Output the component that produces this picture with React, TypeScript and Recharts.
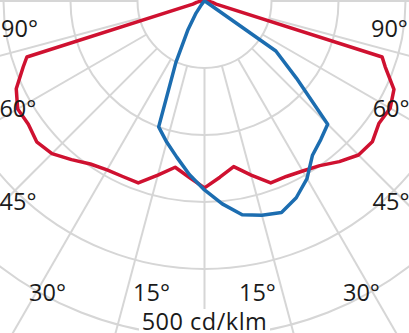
import { RadarChart, Radar, PolarGrid, PolarAngleAxis, PolarRadiusAxis } from "recharts"

// photometric angle (0 = straight down, + = right side)
const ANGLES = [
  -90, -85, -80, -75, -72.5, -70, -65, -60, -55, -50, -45, -40, -35, -30, -25, -20, -15, -10, -5,
  0, 5, 10, 15, 20, 25, 30, 35, 40, 45, 50, 55, 60, 65, 70, 72.5, 75, 80, 85, 90,
]

// C0-C180 plane, cd/klm
const RED = [
  4, 7, 12, 18, 278, 288, 310, 322, 321, 327, 322, 309, 297, 291, 289, 289, 269, 252, 264,
  279, 264, 251, 269, 289, 289, 293, 300, 313, 325, 327, 318, 320, 312, 287, 278, 18, 12, 7, 4,
]

// C90-C270 plane, cd/klm
const BLUE = [
  0, 0, 0, 0, 0, 0, 0, 0, 0, 0, 2, 7, 22, 49, 101, 200, 218, 237, 260,
  282, 304, 324, 331, 336, 324, 306, 281, 270, 260, 179, 130, 3, 0, 0, 0, 0, 0, 0, 0,
]

const GRID_ANGLES = [
  -180, -165, -150, -135, -120, -105, -90, -75, -60, -45, -30, -15, 0,
  15, 30, 45, 60, 75, 90, 105, 120, 135, 150, 165, 180,
]

// where each angle label sits: [polar angle, distance from centre]
const LABEL_SPOTS: Record<number, [number, number]> = {
  90: [81.5, 187],
  60: [60, 215.5],
  45: [43, 273.5],
  30: [28.3, 331],
  15: [10.3, 296],
}

const CX = 204.5
const CY = 1
const FONT = "'Open Sans', 'Noto Sans', sans-serif"

const rows = ANGLES.map((angle, i) => ({ angle, red: RED[i], blue: BLUE[i] }))

function AngleTick(props: any) {
  const v = props.payload?.value as number
  const spot = LABEL_SPOTS[Math.abs(v)]
  if (!spot) return null
  const rad = (spot[0] * Math.PI) / 180
  const x = CX + Math.sign(v) * spot[1] * Math.sin(rad)
  const y = CY + spot[1] * Math.cos(rad) + 8.5
  return (
    <text x={x} y={y} textAnchor="middle" fill="#1a1a1a" fontSize={23.5} fontFamily={FONT}>
      {`${Math.abs(v)}°`}
    </text>
  )
}

export default function App() {
  return (
    <div style={{ position: "relative", width: 409, height: 333, background: "#fff", overflow: "hidden" }}>
      <style>{"body{margin:0}"}</style>
      <RadarChart
        width={409}
        height={333}
        data={rows}
        cx={CX}
        cy={CY}
        innerRadius={67}
        outerRadius={402}
        startAngle={-270}
        endAngle={90}
        margin={{ top: 0, right: 0, bottom: 0, left: 0 }}
      >
        <PolarGrid gridType="circle" stroke="#d6d6d6" strokeWidth={2} />
        <PolarRadiusAxis
          type="number"
          domain={[100, 600]}
          tickCount={6}
          allowDataOverflow
          tick={false}
          axisLine={false}
        />
        <PolarAngleAxis
          dataKey="angle"
          type="number"
          domain={[-180, 180]}
          ticks={GRID_ANGLES}
          tick={<AngleTick />}
          tickLine={false}
          axisLine={false}
        />
        <Radar
          dataKey="red"
          stroke="#cf1130"
          strokeWidth={3.5}
          strokeLinejoin="round"
          fill="none"
          dot={false}
          activeDot={false}
          isAnimationActive={false}
        />
        <Radar
          dataKey="blue"
          stroke="#1c6db0"
          strokeWidth={3.5}
          strokeLinejoin="round"
          fill="none"
          dot={false}
          activeDot={false}
          isAnimationActive={false}
        />
      </RadarChart>
      <div
        style={{
          position: "absolute",
          left: 0,
          top: 309,
          width: 409,
          height: 24,
          textAlign: "center",
          fontFamily: FONT,
          fontSize: 23.5,
          lineHeight: "24px",
          color: "#1a1a1a",
        }}
      >
        <span
          style={{
            display: "inline-block",
            height: 24,
            lineHeight: "24px",
            background: "#fff",
            padding: "0 3px",
            letterSpacing: 0.5,
          }}
        >
          500 cd/klm
        </span>
      </div>
    </div>
  )
}
